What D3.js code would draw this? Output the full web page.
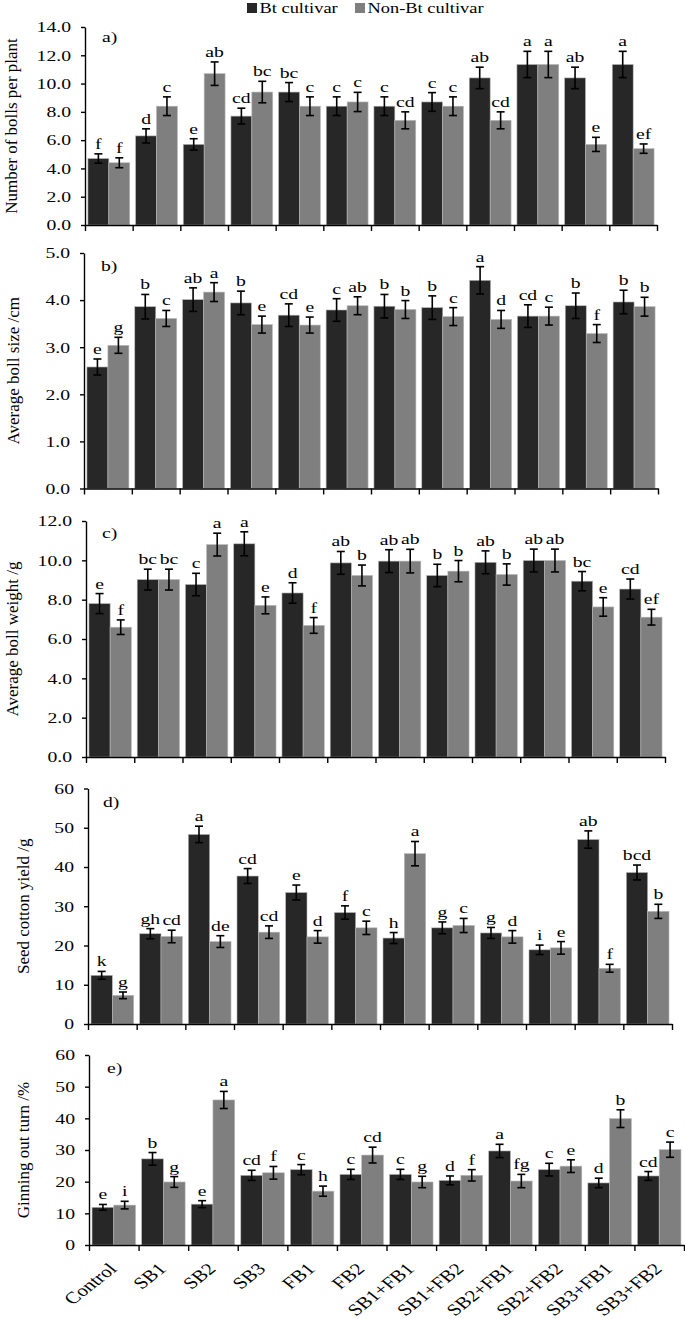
<!DOCTYPE html>
<html><head><meta charset="utf-8">
<script src="https://cdn.jsdelivr.net/npm/d3@7"></script>
<style>
html,body{margin:0;padding:0;background:#fff;}
svg{display:block;}
text{font-family:"Liberation Serif","Times New Roman",serif;fill:#000;}
</style></head>
<body>
<svg id="chart" width="685" height="1319"></svg>
<script>
// ---------- DATA ----------
const categories = ["Control","SB1","SB2","SB3","FB1","FB2","SB1+FB1","SB1+FB2","SB2+FB1","SB2+FB2","SB3+FB1","SB3+FB2"];
const seriesNames = ["Bt cultivar","Non-Bt cultivar"];

// a) Number of bolls per plant
const bollsTicks = [0,2,4,6,8,10,12,14];
const bollsBt     = [4.7,6.3,5.7,7.7,9.4,8.4,8.4,8.7,10.4,11.35,10.4,11.35];
const bollsBtErr  = [0.33,0.5,0.4,0.56,0.67,0.66,0.66,0.66,0.76,0.93,0.76,0.93];
const bollsNon    = [4.4,8.4,10.7,9.4,8.4,8.7,7.4,8.4,7.4,11.35,5.7,5.4];
const bollsNonErr = [0.35,0.66,0.83,0.76,0.66,0.68,0.6,0.66,0.6,0.93,0.5,0.33];
const bollsBtLet  = ["f","d","e","cd","bc","c","c","c","ab","a","ab","a"];
const bollsNonLet = ["f","c","ab","bc","c","c","cd","c","cd","a","e","ef"];

// b) Average boll size /cm
const sizeTicks = [0,1,2,3,4,5];
const sizeBt     = [2.58,3.86,4.01,3.94,3.68,3.79,3.87,3.84,4.42,3.66,3.88,3.96];
const sizeBtErr  = [0.17,0.26,0.25,0.25,0.24,0.24,0.25,0.25,0.29,0.24,0.27,0.25];
const sizeNon    = [3.04,3.61,4.17,3.48,3.47,3.88,3.8,3.65,3.59,3.66,3.29,3.86];
const sizeNonErr = [0.17,0.17,0.2,0.18,0.17,0.19,0.19,0.19,0.19,0.19,0.19,0.2];
const sizeBtLet  = ["e","b","ab","b","cd","c","b","b","a","cd","b","b"];
const sizeNonLet = ["g","c","a","e","e","ab","b","c","d","c","f","b"];

// c) Average boll weight /g
const weightTicks = [0,2,4,6,8,10,12];
const weightBt     = [7.8,9.02,8.77,10.84,8.34,9.87,9.96,9.23,9.9,9.99,8.94,8.54];
const weightBtErr  = [0.51,0.53,0.57,0.61,0.52,0.58,0.58,0.57,0.58,0.58,0.49,0.51];
const weightNon    = [6.6,9.02,10.8,7.71,6.69,9.23,9.96,9.45,9.28,9.99,7.63,7.11];
const weightNonErr = [0.37,0.53,0.58,0.43,0.4,0.53,0.6,0.54,0.54,0.58,0.47,0.4];
const weightBtLet  = ["e","bc","c","a","d","ab","ab","b","ab","ab","bc","cd"];
const weightNonLet = ["f","bc","a","e","f","b","ab","b","b","ab","e","ef"];

// d) Seed cotton yield /g
const yieldTicks = [0,10,20,30,40,50,60];
const yieldBt     = [12.4,23.0,48.3,37.7,33.5,28.4,21.9,24.5,23.2,18.9,47.0,38.6];
const yieldBtErr  = [1.0,1.3,2.1,1.9,1.9,1.7,1.4,1.5,1.4,1.2,2.2,1.9];
const yieldNon    = [7.3,22.3,21.0,23.4,22.2,24.5,43.4,25.1,22.2,19.4,14.2,28.7];
const yieldNonErr = [0.85,1.6,1.5,1.6,1.6,1.7,3.1,1.8,1.6,1.6,1.0,1.8];
const yieldBtLet  = ["k","gh","a","cd","e","f","h","g","g","i","ab","bcd"];
const yieldNonLet = ["g","cd","de","cd","d","c","a","c","d","e","f","b"];

// e) Ginning out turn /%
const ginTicks = [0,10,20,30,40,50,60];
const ginBt     = [11.9,27.2,12.9,22.0,23.8,22.3,22.3,20.4,29.7,23.8,19.6,21.8];
const ginBtErr  = [0.9,2.0,1.1,1.6,1.6,1.6,1.6,1.4,2.1,2.0,1.5,1.4];
const ginNon    = [12.6,19.9,45.8,22.8,17.0,28.4,19.9,22.0,20.2,24.9,39.9,30.1];
const ginNonErr = [1.2,1.7,2.7,2.0,1.6,2.5,1.8,1.8,2.1,2.0,2.8,2.4];
const ginBtLet  = ["e","b","e","cd","c","c","c","d","a","c","d","cd"];
const ginNonLet = ["i","g","a","f","h","cd","g","f","fg","e","b","c"];

// ---------- LAYOUT ----------
const SX = 1.27; // horizontal stretch of the original figure's text
const colors = ["#272727","#7f7f7f"];

const panels = [
  {tag:"a)", title:"Number of bolls per plant", ticks:bollsTicks, fmt:d3.format(".1f"),
   vals:[bollsBt,bollsNon], errs:[bollsBtErr,bollsNonErr], lets:[bollsBtLet,bollsNonLet],
   x0:85, x1:657, yTop:27, y0:225, titleX:17, tagX:102, tagY:42},
  {tag:"b)", title:"Average boll size /cm", ticks:sizeTicks, fmt:d3.format(".1f"),
   vals:[sizeBt,sizeNon], errs:[sizeBtErr,sizeNonErr], lets:[sizeBtLet,sizeNonLet],
   x0:84, x1:658, yTop:253, y0:488.5, titleX:19, tagX:101, tagY:271},
  {tag:"c)", title:"Average boll weight /g", ticks:weightTicks, fmt:d3.format(".1f"),
   vals:[weightBt,weightNon], errs:[weightBtErr,weightNonErr], lets:[weightBtLet,weightNonLet],
   x0:86, x1:665, yTop:521, y0:757, titleX:18, tagX:102, tagY:538},
  {tag:"d)", title:"Seed cotton yield /g", ticks:yieldTicks, fmt:d3.format("d"),
   vals:[yieldBt,yieldNon], errs:[yieldBtErr,yieldNonErr], lets:[yieldBtLet,yieldNonLet],
   x0:88, x1:672, yTop:788.5, y0:1024, titleX:29, tagX:103, tagY:807},
  {tag:"e)", title:"Ginning out turn /%", ticks:ginTicks, fmt:d3.format("d"),
   vals:[ginBt,ginNon], errs:[ginBtErr,ginNonErr], lets:[ginBtLet,ginNonLet],
   x0:89, x1:684, yTop:1055, y0:1245, titleX:29, tagX:107, tagY:1073, xlabels:true}
];

const svg = d3.select("#chart");
svg.append("rect").attr("width",685).attr("height",1319).attr("fill","#fff");

function sText(g, x, y, str, size, anchor, rot, sx){
  const s = (sx === undefined) ? SX : sx;
  return g.append("text")
    .attr("transform", `translate(${x},${y}) scale(${s},1)` + (rot ? ` rotate(${rot})` : ""))
    .attr("text-anchor", anchor || "start")
    .style("font-size", size + "px")
    .text(str);
}

// legend
const leg = svg.append("g");
const legX = [247, 355];
seriesNames.forEach((n,i)=>{
  leg.append("rect").attr("x",legX[i]).attr("y",3).attr("width",10).attr("height",10).attr("fill",colors[i]);
  sText(leg, legX[i]+12.5, 13, n, 14.5, "start");
});

panels.forEach(p=>{
  const g = svg.append("g");
  const tmax = p.ticks[p.ticks.length-1];
  const y = d3.scaleLinear().domain([0,tmax]).range([p.y0,p.yTop]);
  const xb = d3.scaleBand().domain(categories).range([p.x0,p.x1]).padding(0);
  const xs = d3.scaleBand().domain([0,1]).range([0,xb.bandwidth()]).paddingInner(0).paddingOuter(0.14);
  const xl = d3.scaleLinear().domain([0,categories.length]).range([p.x0,p.x1]);

  // bars
  [0,1].forEach(s=>{
    const gs = g.append("g");
    categories.forEach((c,i)=>{
      const v = p.vals[s][i], e = p.errs[s][i];
      const bx = xb(c)+xs(s), bw = xs.bandwidth(), cx = bx+bw/2;
      gs.append("rect").attr("x",bx).attr("y",y(v)).attr("width",bw).attr("height",p.y0-y(v))
        .attr("fill",colors[s]).attr("stroke","#b8b8b8").attr("stroke-width",0.6);
      const eg = gs.append("g").attr("stroke","#000").attr("stroke-width",1.6);
      eg.append("line").attr("x1",cx).attr("x2",cx).attr("y1",y(v+e)).attr("y2",y(v-e));
      eg.append("line").attr("x1",cx-4).attr("x2",cx+4).attr("y1",y(v+e)).attr("y2",y(v+e));
      eg.append("line").attr("x1",cx-4).attr("x2",cx+4).attr("y1",y(v-e)).attr("y2",y(v-e));
      sText(gs, cx, y(v+e)-5, p.lets[s][i], 15.5, "middle");
    });
  });

  // y axis
  const ya = g.append("g").attr("transform",`translate(${p.x0},0)`)
    .call(d3.axisLeft(y).tickValues(p.ticks).tickSize(4).tickSizeOuter(0).tickFormat(""));
  ya.selectAll("path,line").attr("stroke","#000").attr("stroke-width",1.4);
  p.ticks.forEach(t=> sText(g, p.x0-14, y(t)+5.3, p.fmt(t), 15.5, "end"));

  // x axis
  const xa = g.append("g").attr("transform",`translate(0,${p.y0})`)
    .call(d3.axisBottom(xl).tickValues(d3.range(categories.length+1)).tickSize(6).tickSizeOuter(0).tickFormat(""));
  xa.selectAll("path,line").attr("stroke","#000").attr("stroke-width",1.4);

  // panel tag
  sText(g, p.tagX, p.tagY, p.tag, 15.5, "start");

  // y title
  sText(g, p.titleX, (p.y0+p.yTop)/2, p.title, 17, "middle", -90, 1);

  // x labels
  if (p.xlabels){
    categories.forEach(c=>{
      const cx = xb(c)+xb.bandwidth()/2;
      sText(g, cx+4, p.y0+25, c, 16.5, "end", -45);
    });
  }
});
</script>
</body></html>
